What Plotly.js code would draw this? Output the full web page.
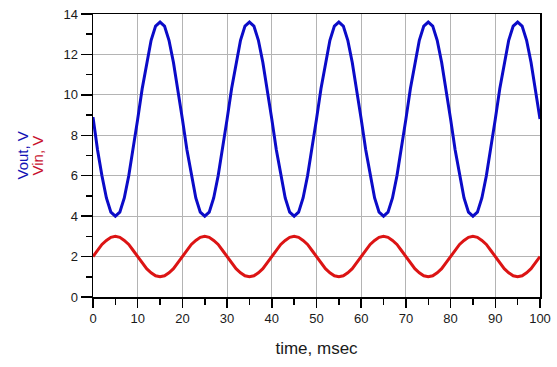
<!DOCTYPE html>
<html>
<head>
<meta charset="utf-8">
<script src="https://cdn.plot.ly/plotly-3.0.1.min.js"></script>
<style>html,body{margin:0;padding:0;background:#fff;}#chart{width:557px;height:367px;}</style>
</head>
<body>
<div id="chart"></div>
<script>
// time samples, msec
var timeMs = [0,1,2,3,4,5,6,7,8,9,10,11,12,13,14,15,16,17,18,19,
  20,21,22,23,24,25,26,27,28,29,30,31,32,33,34,35,36,37,38,39,
  40,41,42,43,44,45,46,47,48,49,50,51,52,53,54,55,56,57,58,59,
  60,61,62,63,64,65,66,67,68,69,70,71,72,73,74,75,76,77,78,79,
  80,81,82,83,84,85,86,87,88,89,90,91,92,93,94,95,96,97,98,99,100];

// Vout, V
var vout = [8.9,7.3,6.0,4.9,4.2,4.0,4.2,4.9,6.0,7.3,8.8,10.3,11.6,12.7,13.4,13.6,13.4,12.7,11.6,10.3,
  8.8,7.3,6.0,4.9,4.2,4.0,4.2,4.9,6.0,7.3,8.8,10.3,11.6,12.7,13.4,13.6,13.4,12.7,11.6,10.3,
  8.8,7.3,6.0,4.9,4.2,4.0,4.2,4.9,6.0,7.3,8.8,10.3,11.6,12.7,13.4,13.6,13.4,12.7,11.6,10.3,
  8.8,7.3,6.0,4.9,4.2,4.0,4.2,4.9,6.0,7.3,8.8,10.3,11.6,12.7,13.4,13.6,13.4,12.7,11.6,10.3,
  8.8,7.3,6.0,4.9,4.2,4.0,4.2,4.9,6.0,7.3,8.8,10.3,11.6,12.7,13.4,13.6,13.4,12.7,11.6,10.3,8.8];

// Vin, V
var vin = [2.0,2.3,2.6,2.8,2.95,3.0,2.95,2.8,2.6,2.3,2.0,1.7,1.4,1.2,1.05,1.0,1.05,1.2,1.4,1.7,
  2.0,2.3,2.6,2.8,2.95,3.0,2.95,2.8,2.6,2.3,2.0,1.7,1.4,1.2,1.05,1.0,1.05,1.2,1.4,1.7,
  2.0,2.3,2.6,2.8,2.95,3.0,2.95,2.8,2.6,2.3,2.0,1.7,1.4,1.2,1.05,1.0,1.05,1.2,1.4,1.7,
  2.0,2.3,2.6,2.8,2.95,3.0,2.95,2.8,2.6,2.3,2.0,1.7,1.4,1.2,1.05,1.0,1.05,1.2,1.4,1.7,
  2.0,2.3,2.6,2.8,2.95,3.0,2.95,2.8,2.6,2.3,2.0,1.7,1.4,1.2,1.05,1.0,1.05,1.2,1.4,1.7,2.0];

var xTickVals = [0,10,20,30,40,50,60,70,80,90,100];
var yTickVals = [0,2,4,6,8,10,12,14];
var xTitle = "time, msec";
var yTitles = ["Vout, V", "Vin, V"];

var FONT = "Liberation Sans, Arial, sans-serif";
var BLUE = "#0b0bc8", RED = "#dc1414";

var traces = [
  {x: timeMs, y: vout, type: "scatter", mode: "lines", name: "Vout",
   line: {color: BLUE, width: 3}},
  {x: timeMs, y: vin, type: "scatter", mode: "lines", name: "Vin",
   line: {color: RED, width: 3}}
];

var layout = {
  width: 557, height: 367,
  margin: {l: 93, r: 17, t: 14, b: 70, pad: 0},
  paper_bgcolor: "#ffffff", plot_bgcolor: "#ffffff",
  showlegend: false,
  font: {family: FONT, size: 13, color: "#1a1a1a"},
  xaxis: {
    range: [0, 100], tickvals: xTickVals, ticks: "outside", ticklen: 9, tickwidth: 1.5,
    tickcolor: "#000", showline: true, linecolor: "#000", linewidth: 1.5, mirror: true,
    showgrid: true, gridcolor: "#b4b4b4", gridwidth: 1, zeroline: false,
    tickfont: {family: FONT, size: 13, color: "#1a1a1a"},
    minor: {dtick: 5, tick0: 0, ticks: "outside", ticklen: 6, tickwidth: 1.5, tickcolor: "#000", showgrid: false},
    title: {text: xTitle, font: {family: FONT, size: 17, color: "#1a1a1a"}, standoff: 17}
  },
  yaxis: {
    range: [0, 14], tickvals: yTickVals, ticks: "outside", ticklen: 11, tickwidth: 1.5,
    tickcolor: "#000", showline: true, linecolor: "#000", linewidth: 1.5, mirror: true,
    showgrid: true, gridcolor: "#b4b4b4", gridwidth: 1, zeroline: false,
    tickfont: {family: FONT, size: 13, color: "#1a1a1a"},
    minor: {dtick: 1, tick0: 0, ticks: "outside", ticklen: 6, tickwidth: 1.5, tickcolor: "#000", showgrid: false}
  },
  annotations: [
    {text: yTitles[0], xref: "paper", yref: "paper", x: 0, y: 0.5, xshift: -71,
     xanchor: "center", yanchor: "middle", textangle: -90, showarrow: false,
     font: {family: FONT, size: 15, color: "#1212b4"}},
    {text: yTitles[1], xref: "paper", yref: "paper", x: 0, y: 0.5, xshift: -56,
     xanchor: "center", yanchor: "middle", textangle: -90, showarrow: false,
     font: {family: FONT, size: 15, color: "#c8102e"}}
  ]
};

Plotly.newPlot("chart", traces, layout, {staticPlot: true, displayModeBar: false});
</script>
</body>
</html>
